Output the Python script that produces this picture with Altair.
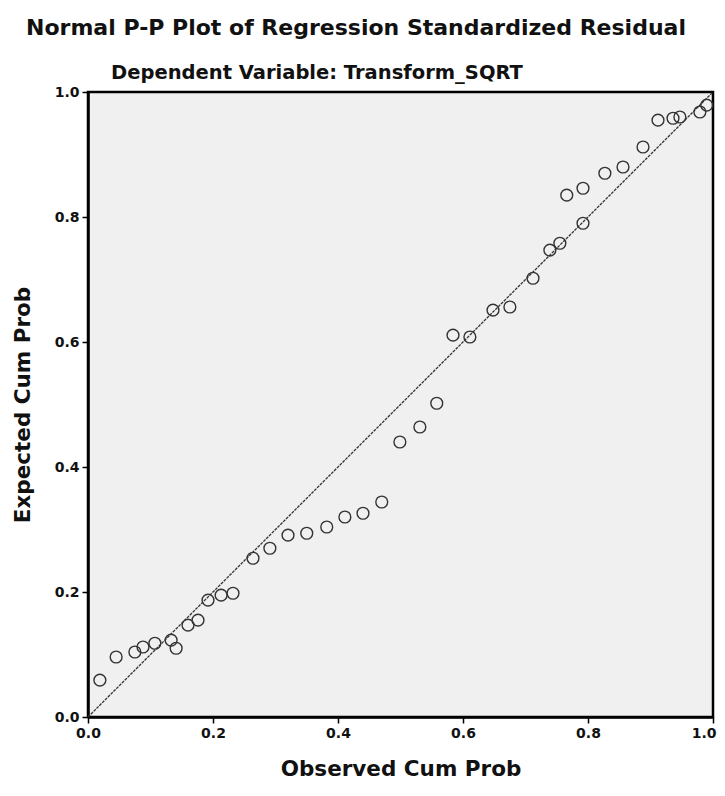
import altair as alt
import pandas as pd

# Observed cumulative probability (x) and expected cumulative probability (y)
observed = [0.019, 0.045, 0.075, 0.088, 0.107, 0.133, 0.141, 0.160, 0.176, 0.192,
            0.213, 0.232, 0.264, 0.291, 0.320, 0.350, 0.382, 0.411, 0.440, 0.470,
            0.499, 0.531, 0.558, 0.584, 0.611, 0.648, 0.675, 0.712, 0.739, 0.755,
            0.766, 0.792, 0.792, 0.827, 0.856, 0.888, 0.912, 0.936, 0.947, 0.979,
            0.990]
expected = [0.059, 0.096, 0.104, 0.112, 0.118, 0.123, 0.110, 0.147, 0.155, 0.187,
            0.195, 0.198, 0.254, 0.270, 0.291, 0.294, 0.304, 0.320, 0.326, 0.344,
            0.440, 0.464, 0.502, 0.611, 0.608, 0.651, 0.656, 0.702, 0.747, 0.758,
            0.835, 0.846, 0.790, 0.870, 0.880, 0.912, 0.955, 0.958, 0.960, 0.968,
            0.979]

ref_x = [0.0, 1.0]
ref_y = [0.0, 1.0]
tick_values = [0.0, 0.2, 0.4, 0.6, 0.8, 1.0]

title_text = "Normal P-P Plot of Regression Standardized Residual"
subtitle_text = "Dependent Variable: Transform_SQRT"
x_title = "Observed Cum Prob"
y_title = "Expected Cum Prob"

FONT = "DejaVu Sans"

pts = pd.DataFrame({"obs": observed, "exp": expected})
ref = pd.DataFrame({"obs": ref_x, "exp": ref_y})

xs = alt.Scale(domain=[0, 1], nice=False, zero=False)
ys = alt.Scale(domain=[0, 1], nice=False, zero=False)

x_axis = alt.Axis(
    values=tick_values, format=".1f", title=x_title, grid=False,
    labelFlush=False, tickSize=6, labelPadding=3, titlePadding=18,
    labelAlign={"condition": {"test": "datum.value >= 1", "value": "right"}, "value": "center"},
    labelOffset={"condition": {"test": "datum.value >= 1", "value": 3}, "value": 0},
)
y_axis = alt.Axis(values=tick_values, format=".1f", title=y_title, grid=False,
                  labelFlush=False, tickSize=6, labelPadding=3, titlePadding=20)

line = alt.Chart(ref).mark_line(color="#333333", strokeWidth=1.3, strokeDash=[3, 1]).encode(
    x=alt.X("obs:Q", scale=xs, axis=x_axis),
    y=alt.Y("exp:Q", scale=ys, axis=y_axis),
)

points = alt.Chart(pts).mark_point(shape="circle", filled=False, size=140,
                                   color="#333333", strokeWidth=1.4, opacity=1).encode(
    x=alt.X("obs:Q", scale=xs),
    y=alt.Y("exp:Q", scale=ys),
)

title_mark = alt.Chart(pd.DataFrame({"t": [title_text]})).mark_text(
    font=FONT, fontSize=22, fontWeight="bold", color="#111111",
    baseline="middle", align="center"
).encode(text="t:N", x=alt.value(268), y=alt.value(-64))

subtitle_mark = alt.Chart(pd.DataFrame({"t": [subtitle_text]})).mark_text(
    font=FONT, fontSize=19.5, fontWeight="bold", color="#111111",
    baseline="middle", align="center"
).encode(text="t:N", x=alt.value(229), y=alt.value(-19))

chart = alt.layer(line, points, title_mark, subtitle_mark).properties(
    width=625, height=625,
    autosize=alt.AutoSizeParams(type="none"),
    padding={"left": 80, "top": 84, "right": 4, "bottom": 71},
).configure_view(
    fill="#F0F0F0", stroke="black", strokeWidth=2.5
).configure_axis(
    domainColor="black", domainWidth=2.5, tickColor="black", tickWidth=1.5,
    labelFont=FONT, labelFontSize=14, labelFontWeight="bold", labelColor="#111111",
    titleFont=FONT, titleFontSize=21.5, titleFontWeight="bold", titleColor="#111111",
)

chart.save("out.html", embed_options={"renderer": "svg", "actions": False})
